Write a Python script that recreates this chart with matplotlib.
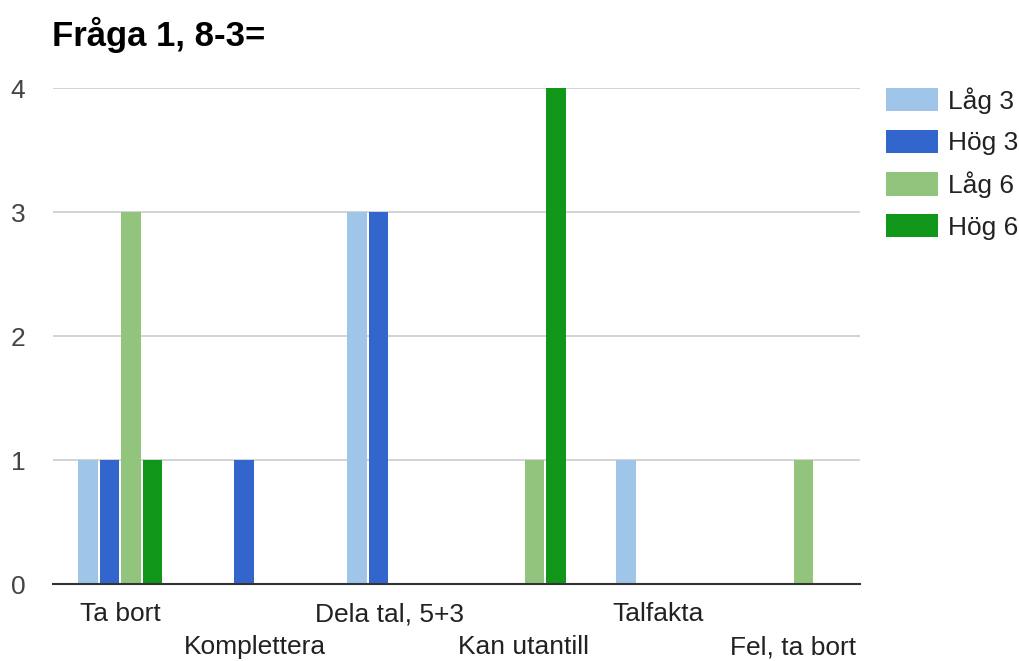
import numpy as np
import matplotlib
matplotlib.use('Agg')
import matplotlib.pyplot as plt

categories = ['Ta bort', 'Komplettera', 'Dela tal, 5+3', 'Kan utantill', 'Talfakta', 'Fel, ta bort']
series_names = ['Låg 3', 'Hög 3', 'Låg 6', 'Hög 6']
lag3 = [1, 0, 3, 0, 1, 0]
hog3 = [1, 1, 3, 0, 0, 0]
lag6 = [3, 0, 0, 1, 0, 1]
hog6 = [1, 0, 0, 4, 0, 0]
colors = ['#9fc5e8', '#3366cc', '#93c47d', '#109618']
title = 'Fråga 1, 8-3='

plt.rcParams['font.family'] = ['Liberation Sans', 'DejaVu Sans']

fig = plt.figure(figsize=(10.2, 6.61), dpi=100)
ax = fig.add_axes([53 / 1020, 1 - 584 / 661, (860 - 53) / 1020, (584 - 88) / 661])

x = np.arange(len(categories))
step = 0.161
width = 0.145
for i, (vals, name) in enumerate(zip([lag3, hog3, lag6, hog6], series_names)):
    ax.bar(x + (i - 1.5) * step, vals, width, color=colors[i], label=name, zorder=3)

ax.set_xlim(-0.5, len(categories) - 0.5)
ax.set_ylim(0, 4)
ax.set_yticks([0, 1, 2, 3, 4])
ax.yaxis.grid(True, color='#cccccc', linewidth=1.2, zorder=0)
ax.set_axisbelow(True)
ax.tick_params(axis='y', length=0, pad=20, labelsize=19, labelcolor='#444444')
ax.tick_params(axis='x', length=0, labelsize=19, labelcolor='#222222')
ax.set_xticks(x)
ax.set_xticklabels(categories)
for i, t in enumerate(ax.xaxis.get_major_ticks()):
    t.set_pad(13 if i % 2 == 0 else 37)

for s in ['top', 'right', 'left']:
    ax.spines[s].set_visible(False)
ax.spines['bottom'].set_color('#333333')
ax.spines['bottom'].set_linewidth(1.5)
ax.spines['bottom'].set_zorder(4)

leg = ax.legend(loc='upper left', bbox_to_anchor=(886 / 1020, 1 - 87 / 661),
                bbox_transform=fig.transFigure, frameon=False, fontsize=19,
                handlelength=1.97, handleheight=1.0, handletextpad=0.38,
                labelspacing=0.6, borderpad=0, borderaxespad=0)
for txt in leg.get_texts():
    txt.set_color('#222222')

fig.text(52 / 1020, 1 - 35 / 661, title, fontsize=25, fontweight='bold', va='center', ha='left')

fig.savefig('out.png', dpi=100, facecolor='white')
